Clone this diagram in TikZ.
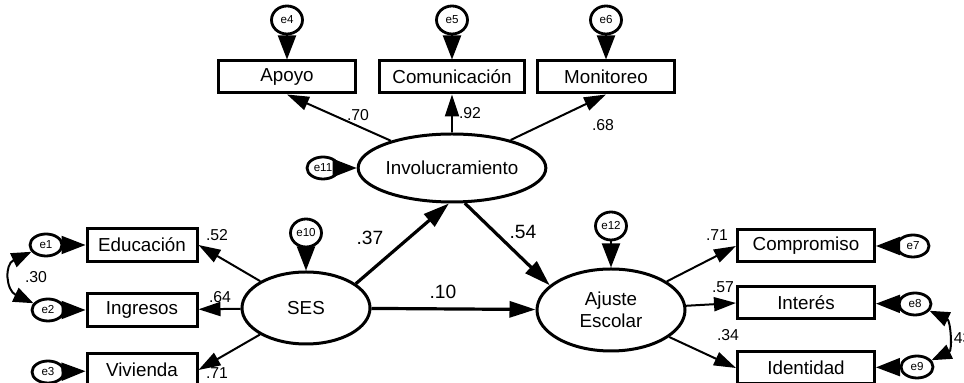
\documentclass[tikz,border=0pt]{standalone}
\usepackage{fontspec}
\setmainfont{Liberation Sans}
\usetikzlibrary{shapes.geometric,arrows.meta}

\tikzset{
  obs/.style={draw,line width=1.5pt,minimum width=68.5pt,minimum height=16pt,inner sep=0pt,font=\fontsize{9.4}{10}\selectfont},
  obsl/.style={obs,minimum width=55pt,minimum height=16.5pt},
  lat/.style={draw,ellipse,line width=1.5pt,inner sep=0pt,font=\fontsize{9.4}{11}\selectfont,align=center},
  err/.style={draw,ellipse,line width=1.4pt,minimum width=16pt,minimum height=11pt,inner sep=0pt,font=\fontsize{5.8}{6}\selectfont},
  errv/.style={err,minimum width=15.5pt,minimum height=14pt},
  reg/.style={line width=1pt,-{Triangle[length=11pt,width=7pt]}},
  breg/.style={line width=1.6pt,-{Triangle[length=13pt,width=8pt]}},
  ereg/.style={line width=1pt,-{Triangle[length=12pt,width=9pt]}},
  covar/.style={line width=1pt,{Triangle[length=10pt,width=7.5pt]}-{Triangle[length=10pt,width=7.5pt]}},
  coef/.style={font=\fontsize{7.9}{9}\selectfont,inner sep=0pt},
  bcoef/.style={font=\fontsize{9.6}{11}\selectfont,inner sep=0pt}
}

\begin{document}
\begin{tikzpicture}[x=0.5pt,y=-0.5pt]
\useasboundingbox (0,0) rectangle (964,383);

% latent variables
\node[lat,minimum width=85pt,minimum height=34pt] (invol) at (452,168) {Involucramiento};
\node[lat,minimum width=64pt,minimum height=36pt] (ses) at (306,308) {SES};
\node[lat,minimum width=74pt,minimum height=41pt] (ajuste) at (611,310) {Ajuste\\Escolar};

% indicators
\node[obs] (apoyo) at (287,77) {Apoyo};
\node[obs,minimum width=72.5pt] (comun) at (452,77) {Comunicación};
\node[obs] (monit) at (606,77) {Monitoreo};
\node[obsl] (educ) at (142,245) {Educación};
\node[obsl] (ingr) at (142,310) {Ingresos};
\node[obsl] (viv) at (142,370) {Vivienda};
\node[obs] (comp) at (806,246) {Compromiso};
\node[obs] (inter) at (806,303) {Interés};
\node[obs] (ident) at (806,368) {Identidad};

% errors
\node[errv] (e4) at (287,20) {e4};
\node[errv] (e5) at (452,20) {e5};
\node[errv] (e6) at (606,20) {e6};
\node[errv] (e10) at (306,233) {e10};
\node[errv] (e12) at (611,226) {e12};
\node[err] (e11) at (323,168) {e11};
\node[err] (e1) at (46,245) {e1};
\node[err] (e2) at (48,310) {e2};
\node[err] (e3) at (48,372) {e3};
\node[err] (e7) at (913,246) {e7};
\node[err] (e8) at (915,304) {e8};
\node[err] (e9) at (917,367) {e9};

% error paths
\draw[ereg] (e4) -- (apoyo);
\draw[ereg] (e5) -- (comun);
\draw[ereg] (e6) -- (monit);
\draw[ereg] (e10) -- (ses);
\draw[ereg] (e12) -- (ajuste);
\draw[ereg] (e11) -- (invol);
\draw[ereg] (e1) -- (educ);
\draw[ereg] (e2) -- (ingr);
\draw[ereg] (e3) -- (viv);
\draw[ereg] (e7) -- (comp);
\draw[ereg] (e8) -- (inter);
\draw[ereg] (e9) -- (ident);

% covariances
\draw[covar] (e1.205) to[out=205,in=155,looseness=1.5] (e2.155);
\draw[covar] (e8.-25) to[out=-25,in=25,looseness=1.2] (e9.25);

% loadings
\draw[reg] (invol) -- (apoyo.south);
\draw[reg] (invol) -- (comun);
\draw[reg] (invol) -- (monit.south);
\draw[reg] (ses) -- (educ.east);
\draw[reg] (ses) -- (ingr);
\draw[reg] (ses) -- (viv.east);
\draw[reg] (ajuste) -- (comp.west);
\draw[reg] (ajuste) -- (inter.west);
\draw[reg] (ajuste) -- (ident.west);

% structural paths
\draw[breg] (ses.26) -- (invol.265);
\draw[breg] (invol.-70) -- (ajuste.158);
\draw[breg] (ses) -- (ajuste);

% coefficients
\node[coef] (c70) at (358,115) {.70};
\node[coef] (c92) at (470,113) {.92};
\node[coef] (c68) at (603,125) {.68};
\node[coef] (c52) at (217,235) {.52};
\node[coef] (c64) at (220,297) {.64};
\node[coef] (c71a) at (217,373) {.71};
\node[coef] (c30) at (36,277) {.30};
\node[coef] (c71b) at (717,235) {.71};
\node[coef] (c57) at (723,287) {.57};
\node[coef] (c34) at (728,335) {.34};
\node[coef,anchor=west] (c43) at (949,338) {.43};
\node[bcoef] (c37) at (370,238) {.37};
\node[bcoef] (c54) at (523,232) {.54};
\node[bcoef] (c10) at (443,292) {.10};
\end{tikzpicture}
\end{document}
